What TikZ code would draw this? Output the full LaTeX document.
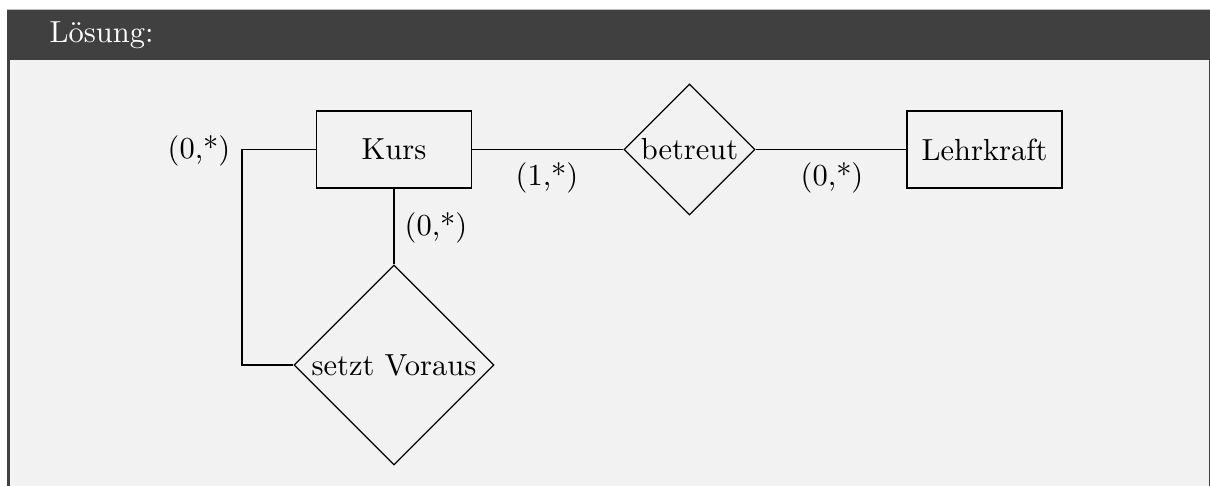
\documentclass[tikz,border=0pt]{standalone}
\usepackage{fontspec}
\usetikzlibrary{shapes.geometric}
\definecolor{hdr}{HTML}{404040}
\definecolor{bodybg}{HTML}{F2F2F2}
\definecolor{topline}{HTML}{BDBDBD}
\tikzset{
  entity/.style={draw, rectangle, minimum width=50.8pt, minimum height=25.3pt, inner sep=0pt},
  relation/.style={draw, diamond, shape aspect=1, inner sep=0pt},
  card/.style={inner sep=0pt, anchor=center},
  conn/.style={draw, line width=0.4pt}
}
\begin{document}
\begin{tikzpicture}[x=0.328pt,y=-0.328pt, font=\fontsize{10}{12}\selectfont]
\useasboundingbox (0,0) rectangle (1210,486);
\fill[white] (0,0) rectangle (1210,486);
\fill[topline] (7,8.6) rectangle (1210,9.8);
\fill[hdr] (7,9.8) rectangle (1210,60);
\fill[bodybg] (10,60) rectangle (1208.7,486);
\fill[hdr] (7,60) rectangle (10,486);
\fill[hdr] (1208.7,60) rectangle (1210,486);
\node[text=white, anchor=base west, inner sep=0pt] (title) at (49,42.5) {Lösung:};

\node[entity] (kurs) at (394,149.5) {Kurs};
\node[relation, minimum size=43pt] (betreut) at (689.5,149.5) {betreut};
\node[entity] (lehr) at (984.5,149.5) {Lehrkraft};
\node[relation, minimum size=65.6pt] (setzt) at (394,365) {setzt Voraus};

\coordinate (c1) at (242,149.5);
\coordinate (c2) at (242,365);

\draw[conn] (kurs) -- (betreut);
\draw[conn] (betreut) -- (lehr);
\draw[conn] (kurs) -- (setzt);
\draw[conn] (kurs.west) -- (c1) -- (c2) -- (setzt.west);

\node[card] (l1) at (199,151) {(0,*)};
\node[card] (l2) at (436,228.3) {(0,*)};
\node[card] (l3) at (547,177.5) {(1,*)};
\node[card] (l4) at (832,177.5) {(0,*)};
\end{tikzpicture}
\end{document}
